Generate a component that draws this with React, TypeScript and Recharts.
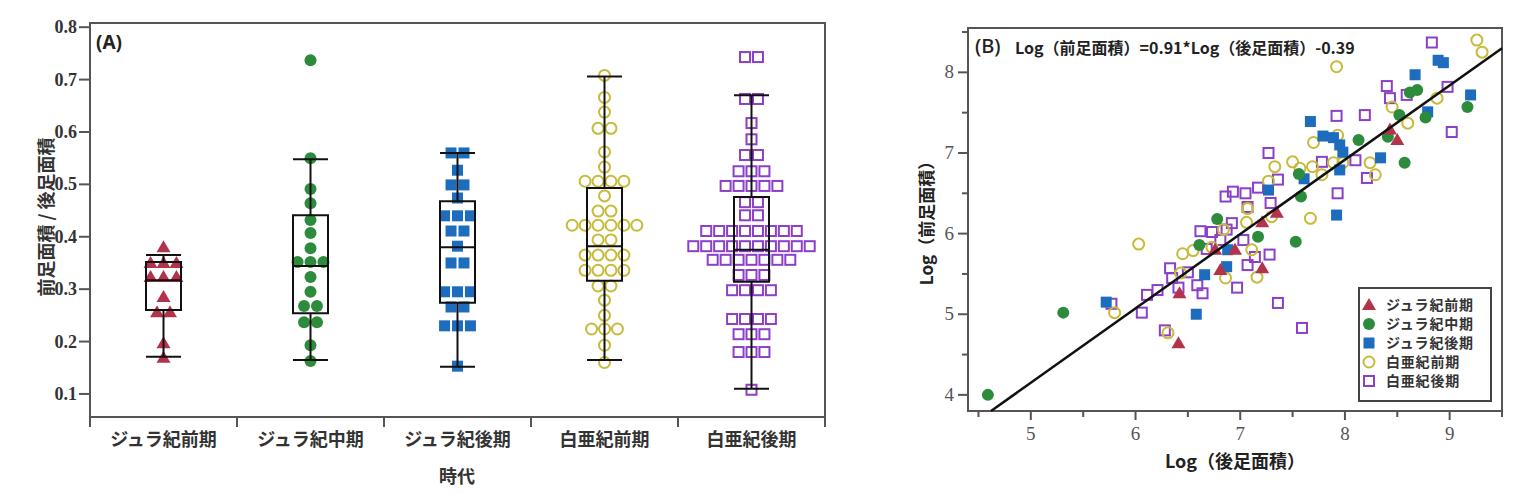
import React from 'react';
import { ScatterChart, Scatter, XAxis, YAxis, ReferenceArea, ReferenceLine } from 'recharts';

// ---------- shared ----------
const periods = ['ジュラ紀前期', 'ジュラ紀中期', 'ジュラ紀後期', '白亜紀前期', '白亜紀後期'];
const periodColors = ['#B2334B', '#2C8C3C', '#1E6CBE', '#C6BB3A', '#8C40C8'];

// ---------- panel A: 前足面積 / 後足面積 ----------
const ratioJurassicEarly = [0.380, 0.350, 0.350, 0.350, 0.323, 0.323, 0.323, 0.285, 0.256, 0.256, 0.197, 0.169];
const ratioJurassicMiddle = [0.737, 0.550, 0.491, 0.464, 0.432, 0.407, 0.378, 0.352, 0.352, 0.352, 0.323, 0.295, 0.268, 0.268, 0.237, 0.237, 0.193, 0.163];
const ratioJurassicLate = [0.560, 0.560, 0.527, 0.499, 0.499, 0.474, 0.440, 0.440, 0.440, 0.411, 0.411, 0.382, 0.350, 0.350, 0.295, 0.295, 0.295, 0.266, 0.266, 0.230, 0.230, 0.230, 0.153];
const ratioCretaceousEarly = [0.708, 0.666, 0.638, 0.607, 0.607, 0.562, 0.533, 0.506, 0.506, 0.506, 0.506, 0.478, 0.449, 0.449, 0.422, 0.422, 0.422, 0.422, 0.422, 0.422, 0.394, 0.394, 0.365, 0.365, 0.365, 0.365, 0.336, 0.336, 0.336, 0.336, 0.306, 0.306, 0.279, 0.250, 0.224, 0.224, 0.224, 0.193, 0.160];
const ratioCretaceousLate = [0.743, 0.743, 0.663, 0.663, 0.617, 0.586, 0.556, 0.556, 0.525, 0.525, 0.525, 0.497, 0.497, 0.497, 0.497, 0.497, 0.466, 0.466, 0.441, 0.441, 0.411, 0.411, 0.411, 0.411, 0.411, 0.411, 0.411, 0.411, 0.382, 0.382, 0.382, 0.382, 0.382, 0.382, 0.382, 0.382, 0.382, 0.382, 0.356, 0.356, 0.356, 0.356, 0.356, 0.356, 0.356, 0.327, 0.327, 0.327, 0.298, 0.298, 0.298, 0.298, 0.243, 0.243, 0.243, 0.243, 0.214, 0.214, 0.214, 0.180, 0.180, 0.180, 0.108];
const ratioGroups = [ratioJurassicEarly, ratioJurassicMiddle, ratioJurassicLate, ratioCretaceousEarly, ratioCretaceousLate];

const boxLowerWhisker = [0.171, 0.165, 0.152, 0.165, 0.110];
const boxQ1 = [0.260, 0.254, 0.274, 0.316, 0.314];
const boxMedian = [0.317, 0.344, 0.380, 0.382, 0.375];
const boxQ3 = [0.352, 0.441, 0.468, 0.493, 0.476];
const boxUpperWhisker = [0.365, 0.548, 0.560, 0.706, 0.670];

const aYTicks = [0.1, 0.2, 0.3, 0.4, 0.5, 0.6, 0.7, 0.8];
const aXTicks = [-0.5, 0, 0.5, 1, 1.5, 2, 2.5, 3, 3.5, 4, 4.5];
const aYDomain = [0.056, 0.808];

// ---------- panel B: Log(前足面積) vs Log(後足面積) ----------
const logJurassicEarly = [[6.42, 5.26], [6.41, 4.64], [6.76, 5.80], [6.95, 5.80], [7.21, 6.14], [7.35, 6.26], [7.21, 5.57], [6.81, 5.55], [8.43, 7.29], [8.50, 7.16]];
const logJurassicMiddle = [[4.59, 4.00], [5.31, 5.02], [6.61, 5.86], [6.78, 6.18], [7.17, 5.96], [7.53, 5.90], [7.58, 6.46], [7.56, 6.74], [8.13, 7.16], [8.41, 7.20], [8.52, 7.47], [8.62, 7.75], [8.69, 7.78], [8.77, 7.44], [9.17, 7.57], [8.57, 6.88]];
const logJurassicLate = [[5.72, 5.15], [6.58, 5.00], [6.66, 5.49], [6.87, 5.59], [6.88, 5.80], [7.27, 6.54], [7.61, 6.68], [7.67, 7.39], [7.79, 7.21], [7.89, 7.19], [7.95, 7.10], [7.98, 7.01], [7.95, 6.79], [7.92, 6.23], [8.34, 6.94], [8.67, 7.97], [8.89, 8.15], [8.94, 8.12], [8.79, 7.51], [9.20, 7.72]];
const logCretaceousEarly = [[6.03, 5.87], [5.80, 5.02], [6.31, 4.77], [6.45, 5.75], [6.55, 5.79], [6.43, 5.51], [6.73, 5.83], [6.84, 6.05], [6.86, 5.45], [7.06, 6.14], [7.07, 6.31], [7.11, 5.80], [7.16, 5.46], [7.30, 6.21], [7.27, 6.65], [7.33, 6.83], [7.50, 6.89], [7.57, 6.81], [7.69, 6.83], [7.78, 6.73], [7.70, 7.13], [7.67, 6.19], [7.93, 7.22], [7.98, 6.88], [7.92, 8.07], [9.26, 8.40], [9.31, 8.25], [8.45, 7.57], [8.88, 7.68], [8.60, 7.37], [8.24, 6.88], [8.29, 6.73], [7.89, 6.88]];
const logCretaceousLate = [[5.77, 5.13], [6.06, 5.02], [6.11, 5.24], [6.21, 5.30], [6.28, 4.80], [6.33, 5.57], [6.35, 5.45], [6.41, 5.33], [6.50, 5.52], [6.62, 6.03], [6.59, 5.36], [6.64, 5.26], [6.73, 6.02], [6.81, 5.92], [6.87, 6.05], [6.86, 6.46], [6.93, 6.52], [6.92, 6.13], [6.97, 5.33], [7.03, 5.92], [7.05, 6.50], [7.07, 6.33], [7.07, 5.61], [7.14, 5.71], [7.17, 6.57], [7.27, 7.00], [7.29, 6.38], [7.28, 5.74], [7.36, 6.67], [7.36, 5.14], [7.59, 4.83], [7.78, 6.89], [7.93, 6.50], [7.92, 7.46], [8.19, 7.47], [8.10, 6.91], [8.21, 6.69], [8.40, 7.83], [8.43, 7.68], [8.59, 7.72], [8.83, 8.37], [8.98, 7.82], [9.02, 7.26], [6.68, 5.81]];
const logGroups = [logJurassicEarly, logJurassicMiddle, logJurassicLate, logCretaceousEarly, logCretaceousLate];

const fitLine = [[4.62, 3.80], [9.50, 8.30]];
const bXTicks = [4.5, 5, 5.5, 6, 6.5, 7, 7.5, 8, 8.5, 9, 9.5];
const bYTicks = [4, 4.5, 5, 5.5, 6, 6.5, 7, 7.5, 8, 8.5];
const bXDomain = [4.4, 9.5];
const bYDomain = [3.8, 8.55];

// ---------- helpers ----------
const CJK = "'Noto Sans CJK JP', 'Noto Sans', sans-serif";
const SERIF = "'Liberation Serif', 'DejaVu Serif', serif";
const STEP = 0.088;
const BOX_HALF = 0.119;

function swarm(values: number[], idx: number) {
  const counts = new Map<number, number>();
  values.forEach((v) => counts.set(v, (counts.get(v) || 0) + 1));
  const seen = new Map<number, number>();
  return values.map((v) => {
    const n = counts.get(v) as number;
    const j = seen.get(v) || 0;
    seen.set(v, j + 1);
    return { x: idx + (j - (n - 1) / 2) * STEP, y: v };
  });
}

function drawMarker(kind: number, color: string, cx: number, cy: number) {
  switch (kind) {
    case 0:
      return <polygon points={`${cx},${cy - 7} ${cx - 7},${cy + 5} ${cx + 7},${cy + 5}`} fill={color} />;
    case 1:
      return <circle cx={cx} cy={cy} r={6} fill={color} />;
    case 2:
      return <rect x={cx - 5.5} y={cy - 5.5} width={11} height={11} fill={color} />;
    case 3:
      return <circle cx={cx} cy={cy} r={5.5} fill="none" stroke={color} strokeWidth={2} />;
    default:
      return <rect x={cx - 5} y={cy - 5} width={10} height={10} fill="none" stroke={color} strokeWidth={2} />;
  }
}

const shapeFor = (kind: number) => (props: any) => {
  const { cx, cy } = props;
  if (cx == null || cy == null) return <g />;
  return drawMarker(kind, periodColors[kind], cx, cy);
};

const ACatTick = (props: any) => {
  const { x, y, payload } = props;
  const v = payload.value;
  if (Number.isInteger(v)) {
    return (
      <text x={x} y={y + 29} textAnchor="middle" fontFamily={CJK} fontWeight="bold" fontSize={18} fill="#333">
        {periods[v]}
      </text>
    );
  }
  return <line x1={x} x2={x} y1={y} y2={y + 10} stroke="#555" strokeWidth={2} />;
};

const AYTick = (props: any) => {
  const { x, y, payload } = props;
  return (
    <g>
      <line x1={x - 11} x2={x} y1={y} y2={y} stroke="#555" strokeWidth={2} />
      <text x={x - 13} y={y + 6} textAnchor="end" fontFamily={SERIF} fontWeight="bold" fontSize={18} fill="#333">
        {Number(payload.value).toFixed(1)}
      </text>
    </g>
  );
};

const BXTick = (props: any) => {
  const { x, y, payload } = props;
  const major = Number.isInteger(payload.value);
  return (
    <g>
      <line x1={x} x2={x} y1={y} y2={y + (major ? 9 : 6)} stroke="#555" strokeWidth={2} />
      {major && (
        <text x={x} y={y + 29} textAnchor="middle" fontFamily={SERIF} fontSize={19} fill="#555">
          {payload.value}
        </text>
      )}
    </g>
  );
};

const BYTick = (props: any) => {
  const { x, y, payload } = props;
  const major = Number.isInteger(payload.value);
  return (
    <g>
      <line x1={x - (major ? 10 : 6)} x2={x} y1={y} y2={y} stroke="#555" strokeWidth={2} />
      {major && (
        <text x={x - 14} y={y + 6} textAnchor="end" fontFamily={SERIF} fontSize={19} fill="#555">
          {payload.value}
        </text>
      )}
    </g>
  );
};

const abs = (left: number, top: number, extra: React.CSSProperties = {}): React.CSSProperties => ({
  position: 'absolute',
  left,
  top,
  whiteSpace: 'nowrap',
  ...extra,
});

export default function App() {
  const swarmData = ratioGroups.map((g, i) => swarm(g, i));
  const bData = logGroups.map((g) => g.map(([x, y]) => ({ x, y })));
  const bOrder = [4, 3, 2, 1, 0];

  return (
    <div style={{ position: 'relative', width: 1502, height: 477 }}>
      {/* Panel A */}
      <div style={abs(0, 0)}>
        <ScatterChart width={830} height={480} margin={{ top: 15, right: 13, bottom: 36, left: 0 }}>
          <XAxis
            type="number"
            dataKey="x"
            domain={[-0.5, 4.5]}
            ticks={aXTicks}
            interval={0}
            allowDataOverflow
            tick={<ACatTick />}
            tickLine={false}
            tickSize={0}
            tickMargin={0}
            axisLine={{ stroke: '#555', strokeWidth: 2 }}
            height={35}
          />
          <YAxis
            type="number"
            dataKey="y"
            domain={aYDomain}
            ticks={aYTicks}
            interval={0}
            allowDataOverflow
            width={82}
            tick={<AYTick />}
            tickLine={false}
            tickSize={0}
            tickMargin={0}
            axisLine={{ stroke: '#555', strokeWidth: 2 }}
          />
          <ReferenceArea x1={-0.5} x2={4.5} y1={aYDomain[0]} y2={aYDomain[1]} fill="none" stroke="#555" strokeWidth={2} ifOverflow="visible" />
          {swarmData.map((d, i) => (
            <Scatter key={'a' + i} data={d} shape={shapeFor(i)} isAnimationActive={false} />
          ))}
          {periods.map((_, i) => (
            <ReferenceArea key={'box' + i} x1={i - BOX_HALF} x2={i + BOX_HALF} y1={boxQ1[i]} y2={boxQ3[i]} fill="none" stroke="#111" strokeWidth={2} ifOverflow="visible" zIndex={700} />
          ))}
          {periods.map((_, i) => (
            <ReferenceLine key={'med' + i} segment={[{ x: i - BOX_HALF, y: boxMedian[i] }, { x: i + BOX_HALF, y: boxMedian[i] }]} stroke="#111" strokeWidth={2} ifOverflow="visible" zIndex={700} />
          ))}
          {periods.map((_, i) => (
            <ReferenceLine key={'wu' + i} segment={[{ x: i, y: boxQ3[i] }, { x: i, y: boxUpperWhisker[i] }]} stroke="#111" strokeWidth={2} ifOverflow="visible" zIndex={700} />
          ))}
          {periods.map((_, i) => (
            <ReferenceLine key={'wl' + i} segment={[{ x: i, y: boxQ1[i] }, { x: i, y: boxLowerWhisker[i] }]} stroke="#111" strokeWidth={2} ifOverflow="visible" zIndex={700} />
          ))}
          {periods.map((_, i) => (
            <ReferenceLine key={'cu' + i} segment={[{ x: i - BOX_HALF, y: boxUpperWhisker[i] }, { x: i + BOX_HALF, y: boxUpperWhisker[i] }]} stroke="#111" strokeWidth={2} ifOverflow="visible" zIndex={700} />
          ))}
          {periods.map((_, i) => (
            <ReferenceLine key={'cl' + i} segment={[{ x: i - BOX_HALF, y: boxLowerWhisker[i] }, { x: i + BOX_HALF, y: boxLowerWhisker[i] }]} stroke="#111" strokeWidth={2} ifOverflow="visible" zIndex={700} />
          ))}
        </ScatterChart>
      </div>
      <div style={abs(88, 25, { fontFamily: "'Noto Sans', sans-serif", fontWeight: 'bold', fontSize: 19, lineHeight: '19px', color: '#222' })}>(A)</div>
      <div style={abs(37, 209, { transform: 'translate(-50%, -50%) rotate(-90deg)', fontFamily: CJK, fontWeight: 'bold', fontSize: 18, color: '#333' })}>
        前足面積 / 後足面積
      </div>
      <div style={abs(449, 467, { transform: 'translate(-50%, -50%)', fontFamily: CJK, fontWeight: 'bold', fontSize: 18, color: '#333' })}>時代</div>

      {/* Panel B */}
      <div style={abs(880, 0)}>
        <ScatterChart width={622} height={470} margin={{ top: 20, right: 8, bottom: 37, left: 0 }}>
          <XAxis
            type="number"
            dataKey="x"
            domain={bXDomain}
            ticks={bXTicks}
            interval={0}
            allowDataOverflow
            tick={<BXTick />}
            tickLine={false}
            tickSize={0}
            tickMargin={0}
            axisLine={{ stroke: '#555', strokeWidth: 2 }}
            height={30}
          />
          <YAxis
            type="number"
            dataKey="y"
            domain={bYDomain}
            ticks={bYTicks}
            interval={0}
            allowDataOverflow
            tick={<BYTick />}
            tickLine={false}
            tickSize={0}
            tickMargin={0}
            axisLine={{ stroke: '#555', strokeWidth: 2 }}
            width={80}
          />
          <ReferenceArea x1={bXDomain[0]} x2={bXDomain[1]} y1={bYDomain[0]} y2={bYDomain[1]} fill="none" stroke="#555" strokeWidth={2} ifOverflow="visible" />
          {bOrder.map((i) => (
            <Scatter key={'b' + i} data={bData[i]} shape={shapeFor(i)} isAnimationActive={false} />
          ))}
          <ReferenceLine
            segment={fitLine.map(([x, y]) => ({ x, y }))}
            stroke="#111"
            strokeWidth={2.5}
            ifOverflow="visible"
            zIndex={700}
          />
        </ScatterChart>
      </div>
      <div style={abs(967, 27, { fontFamily: "'Noto Sans', sans-serif", fontSize: 20, lineHeight: '22px', color: '#222', fontWeight: 500 })}>(B)</div>
      <div style={abs(1007, 29, { fontFamily: CJK, fontSize: 16, lineHeight: '20px', color: '#222', fontWeight: 'bold' })}>
        Log（前足面積）=0.91*Log（後足面積）-0.39
      </div>
      <div style={abs(917, 211, { transform: 'translate(-50%, -50%) rotate(-90deg)', fontFamily: CJK, fontWeight: 'bold', fontSize: 17, color: '#222' })}>
        Log（前足面積）
      </div>
      <div style={abs(1227, 452, { transform: 'translate(-50%, -50%)', fontFamily: CJK, fontWeight: 'bold', fontSize: 18, color: '#222' })}>
        Log（後足面積）
      </div>

      {/* Legend */}
      <div style={abs(1350, 279)}>
        <svg width={134} height={115}>
          <rect x={1} y={1} width={132} height={113} fill="#fff" stroke="#444" strokeWidth={2} />
          {periods.map((name, i) => (
            <g key={'lg' + i}>
              {drawMarker(i, periodColors[i], 11, 18 + i * 19)}
              <text x={28} y={18 + i * 19 + 5} fontFamily={CJK} fontWeight="bold" fontSize={14} letterSpacing={0.8} fill="#333">
                {name}
              </text>
            </g>
          ))}
        </svg>
      </div>
    </div>
  );
}
